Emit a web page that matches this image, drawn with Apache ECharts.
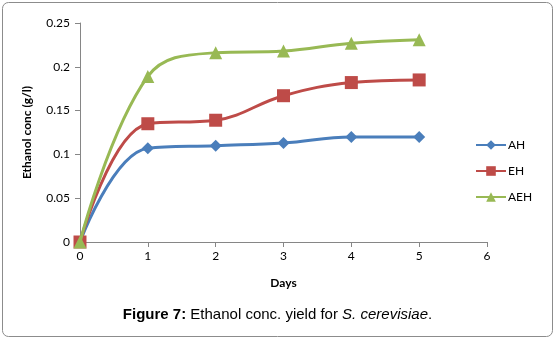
<!DOCTYPE html>
<html><head><meta charset="utf-8">
<script src="https://cdn.jsdelivr.net/npm/echarts@6/dist/echarts.min.js"></script>
<style>html,body{margin:0;padding:0;background:#fff}#c{width:555px;height:339px}</style>
</head><body><div id="c"></div>
<script>
const days = [0, 1, 2, 3, 4, 5];
const AH = [0, 0.107, 0.110, 0.113, 0.120, 0.120];
const EH = [0, 0.135, 0.139, 0.167, 0.182, 0.185];
const AEH = [0, 0.189, 0.216, 0.218, 0.227, 0.231];
const seriesNames = ['AH', 'EH', 'AEH'];
const colors = ['#4a7ebb', '#be4b48', '#98b954'];
const symbols = ['diamond', 'rect', 'triangle'];
const sizes = [12, 13, 13];
const datasets = [AH, EH, AEH];

const chart = echarts.init(document.getElementById('c'));
const font = 'Lato, "Open Sans", sans-serif';
chart.setOption({
  animation: false,
  grid: {left: 80, right: 68, top: 23, bottom: 97, containLabel: false},
  xAxis: {
    type: 'value', min: 0, max: 6, interval: 1,
    name: 'Days', nameLocation: 'middle', nameGap: 35,
    nameTextStyle: {fontFamily: font, fontWeight: 'bold', fontSize: 12, color: '#000'},
    axisLine: {lineStyle: {color: '#868686'}},
    axisTick: {show: true, length: 5, lineStyle: {color: '#868686'}},
    axisLabel: {fontFamily: font, fontSize: 12, color: '#000', margin: 8},
    splitLine: {show: false}
  },
  yAxis: {
    type: 'value', min: 0, max: 0.25, interval: 0.05,
    name: 'Ethanol conc (g/l)', nameLocation: 'middle', nameGap: 47, nameRotate: 90,
    nameTextStyle: {fontFamily: font, fontWeight: 'bold', fontSize: 12, color: '#000'},
    axisLine: {show: true, lineStyle: {color: '#868686'}},
    axisTick: {show: true, length: 5, lineStyle: {color: '#868686'}},
    axisLabel: {fontFamily: font, fontSize: 12, color: '#000', margin: 10},
    splitLine: {show: false}
  },
  legend: {
    orient: 'vertical', left: 470, top: 134, itemGap: 14,
    itemWidth: 30, itemHeight: 12,
    textStyle: {fontFamily: font, fontSize: 12, color: '#000', padding: [0, 0, 0, -3]},
    data: seriesNames
  },
  series: seriesNames.map((n, i) => ({
    name: n, type: 'line', smooth: 0.4,
    data: days.map((d, j) => [d, datasets[i][j]]),
    symbol: symbols[i], symbolSize: sizes[i],
    lineStyle: {width: 3, color: colors[i]},
    itemStyle: {color: colors[i]},
    z: 2 + i
  })),
  graphic: [
    {type: 'rect', shape: {x: 2.5, y: 2.5, width: 550, height: 334, r: 6},
     style: {fill: 'none', stroke: '#8c8c8c', lineWidth: 1}, silent: true},
    {type: 'text', left: 'center', top: 307,
     style: {
       text: '{b|Figure 7:} Ethanol conc. yield for {i|S. cerevisiae}.',
       font: '15px "Liberation Sans", Arial, sans-serif', fill: '#000',
       rich: {
         b: {fontWeight: 'bold', fontSize: 15, fontFamily: '"Liberation Sans", Arial, sans-serif'},
         i: {fontStyle: 'italic', fontSize: 15, fontFamily: '"Liberation Sans", Arial, sans-serif'}
       }
     }}
  ]
});
</script></body></html>
